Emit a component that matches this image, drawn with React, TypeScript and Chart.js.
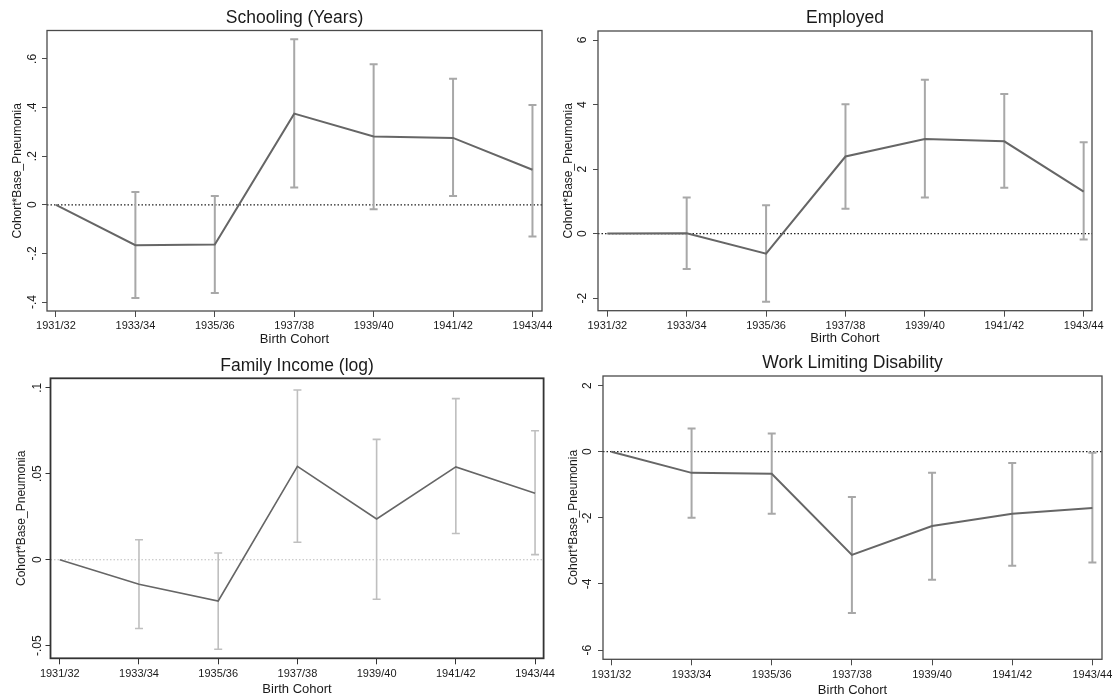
import React, { useEffect, useRef } from "react";
import { Chart, registerables } from "chart.js";

Chart.register(...registerables);

// ---------------- data ----------------
const cohorts = ["1931/32", "1933/34", "1935/36", "1937/38", "1939/40", "1941/42", "1943/44"];

const schoolingEst = [0, -0.166, -0.163, 0.375, 0.281, 0.275, 0.144];
const schoolingHi = [null, 0.053, 0.036, 0.681, 0.578, 0.518, 0.41];
const schoolingLo = [null, -0.384, -0.363, 0.071, -0.018, 0.036, -0.13];
const schoolingTicks = [-0.4, -0.2, 0, 0.2, 0.4, 0.6];
const schoolingTickLabels = ["-.4", "-.2", "0", ".2", ".4", ".6"];

const employedEst = [0, 0.01, -0.62, 2.39, 2.93, 2.86, 1.3];
const employedHi = [null, 1.12, 0.88, 4.01, 4.77, 4.33, 2.83];
const employedLo = [null, -1.1, -2.11, 0.77, 1.12, 1.42, -0.18];
const employedTicks = [-2, 0, 2, 4, 6];
const employedTickLabels = ["-2", "0", "2", "4", "6"];

const incomeEst = [0, -0.0143, -0.024, 0.0543, 0.0237, 0.054, 0.0387];
const incomeHi = [null, 0.0116, 0.0039, 0.0987, 0.07, 0.0937, 0.075];
const incomeLo = [null, -0.04, -0.052, 0.0102, -0.023, 0.0153, 0.003];
const incomeTicks = [-0.05, 0, 0.05, 0.1];
const incomeTickLabels = ["-.05", "0", ".05", ".1"];

const disabilityEst = [0, -0.64, -0.67, -3.12, -2.25, -1.88, -1.7];
const disabilityHi = [null, 0.7, 0.55, -1.37, -0.64, -0.34, -0.03];
const disabilityLo = [null, -2.0, -1.88, -4.88, -3.87, -3.45, -3.35];
const disabilityTicks = [-6, -4, -2, 0, 2];
const disabilityTickLabels = ["-6", "-4", "-2", "0", "2"];

const yTitle = "Cohort*Base_Pneumonia";
const xTitle = "Birth Cohort";

// ---------------- layout / style ----------------
const FONT = '"Liberation Sans", Arial, Helvetica, sans-serif';

type Layout = {
  box: { x: number; y: number; w: number; h: number };
  frame: { l: number; t: number; r: number; b: number };
  yTickX: number;
  yTitleX: number;
  titleY: number;
  xLabelDy: number;
  xTitleDy: number;
  xMin: number;
  xMax: number;
  yMin: number;
  yMax: number;
};

type Style = {
  zeroColor: string;
  lineWidth: number;
  errColor: string;
  errWidth: number;
  frameColor: string;
  frameWidth: number;
};

type PanelProps = {
  title: string;
  est: number[];
  hi: (number | null)[];
  lo: (number | null)[];
  ticks: number[];
  tickLabels: string[];
  layout: Layout;
  style: Style;
};

const Y_AXIS_W = 10;
const X_AXIS_H = 8;

function Panel({ title, est, hi, lo, ticks, tickLabels, layout, style }: PanelProps) {
  const ref = useRef<HTMLCanvasElement | null>(null);

  useEffect(() => {
    const canvas = ref.current;
    if (!canvas) return;
    const { box, frame } = layout;
    const ox = box.x;
    const oy = box.y;

    const overlay = {
      id: "stataOverlay",
      beforeDatasetsDraw(chart: any) {
        const ctx = chart.ctx;
        const xs = chart.scales.x;
        const ys = chart.scales.y;
        const ca = chart.chartArea;
        // zero reference line
        ctx.save();
        ctx.strokeStyle = style.zeroColor;
        ctx.lineWidth = 1.2;
        ctx.setLineDash([1.5, 2]);
        const zy = ys.getPixelForValue(0);
        ctx.beginPath();
        ctx.moveTo(ca.left, zy);
        ctx.lineTo(ca.right, zy);
        ctx.stroke();
        ctx.restore();
        // error bars
        ctx.save();
        ctx.strokeStyle = style.errColor;
        ctx.lineWidth = style.errWidth;
        const cap = 4;
        for (let i = 0; i < est.length; i++) {
          const h = hi[i];
          const l = lo[i];
          if (h == null || l == null) continue;
          const px = xs.getPixelForValue(i);
          const pyH = ys.getPixelForValue(h);
          const pyL = ys.getPixelForValue(l);
          ctx.beginPath();
          ctx.moveTo(px, pyL);
          ctx.lineTo(px, pyH);
          ctx.moveTo(px - cap, pyL);
          ctx.lineTo(px + cap, pyL);
          ctx.moveTo(px - cap, pyH);
          ctx.lineTo(px + cap, pyH);
          ctx.stroke();
        }
        ctx.restore();
      },
      afterDraw(chart: any) {
        const ctx = chart.ctx;
        const xs = chart.scales.x;
        const ys = chart.scales.y;
        const ca = chart.chartArea;
        ctx.save();
        // frame
        ctx.strokeStyle = style.frameColor;
        ctx.lineWidth = style.frameWidth;
        ctx.strokeRect(ca.left, ca.top, ca.right - ca.left, ca.bottom - ca.top);
        ctx.fillStyle = "#1a1a1a";
        // title
        ctx.font = `17.5px ${FONT}`;
        ctx.textAlign = "center";
        ctx.textBaseline = "middle";
        ctx.fillText(title, (ca.left + ca.right) / 2, layout.titleY - oy);
        // x tick labels
        ctx.font = `11px ${FONT}`;
        for (let i = 0; i < cohorts.length; i++) {
          ctx.fillText(cohorts[i], xs.getPixelForValue(i), ca.bottom + layout.xLabelDy);
        }
        // x title
        ctx.font = `13px ${FONT}`;
        ctx.fillText(xTitle, (ca.left + ca.right) / 2, ca.bottom + layout.xTitleDy);
        // y tick labels (rotated)
        ctx.font = `12px ${FONT}`;
        for (let i = 0; i < ticks.length; i++) {
          const py = ys.getPixelForValue(ticks[i]);
          ctx.save();
          ctx.translate(layout.yTickX - ox, py);
          ctx.rotate(-Math.PI / 2);
          ctx.fillText(tickLabels[i], 0, 0);
          ctx.restore();
        }
        // y title
        ctx.font = `12px ${FONT}`;
        ctx.save();
        ctx.translate(layout.yTitleX - ox, (ca.top + ca.bottom) / 2);
        ctx.rotate(-Math.PI / 2);
        ctx.fillText(yTitle, 0, 0);
        ctx.restore();
        ctx.restore();
      },
    };

    const padLeft = frame.l - box.x - Y_AXIS_W;
    const padTop = frame.t - box.y;
    const padRight = box.x + box.w - frame.r;
    const padBottom = box.y + box.h - frame.b - X_AXIS_H;

    const chart = new Chart(canvas, {
      type: "line",
      data: {
        datasets: [
          {
            data: est.map((v, i) => ({ x: i, y: v })),
            borderColor: "#666666",
            borderWidth: style.lineWidth,
            pointRadius: 0,
            tension: 0,
            fill: false,
          },
        ],
      },
      options: {
        responsive: false,
        animation: false,
        devicePixelRatio: 1,
        layout: { padding: { left: padLeft, top: padTop, right: padRight, bottom: padBottom } },
        plugins: { legend: { display: false }, tooltip: { enabled: false }, title: { display: false } },
        scales: {
          x: {
            type: "linear",
            min: layout.xMin,
            max: layout.xMax,
            ticks: { display: false },
            grid: { display: true, drawOnChartArea: false, drawTicks: true, tickLength: 6, color: style.frameColor, lineWidth: 1 },
            border: { display: false },
            afterBuildTicks: (s: any) => {
              s.ticks = cohorts.map((_, i) => ({ value: i }));
            },
            afterFit: (s: any) => {
              s.height = X_AXIS_H;
            },
          },
          y: {
            type: "linear",
            min: layout.yMin,
            max: layout.yMax,
            ticks: { display: false },
            grid: { display: true, drawOnChartArea: false, drawTicks: true, tickLength: 5, color: style.frameColor, lineWidth: 1 },
            border: { display: false },
            afterBuildTicks: (s: any) => {
              s.ticks = ticks.map((v) => ({ value: v }));
            },
            afterFit: (s: any) => {
              s.width = Y_AXIS_W;
            },
          },
        },
      },
      plugins: [overlay],
    } as any);

    return () => chart.destroy();
  }, []);

  const { box } = layout;
  return (
    <canvas
      ref={ref}
      width={box.w}
      height={box.h}
      style={{ position: "absolute", left: box.x, top: box.y, width: box.w, height: box.h }}
    />
  );
}

const baseStyle: Style = {
  zeroColor: "#222222",
  lineWidth: 2,
  errColor: "#a8a8a8",
  errWidth: 2,
  frameColor: "#4a4a4a",
  frameWidth: 1.3,
};

const incomeStyle: Style = {
  zeroColor: "#bdbdbd",
  lineWidth: 1.6,
  errColor: "#bfbfbf",
  errWidth: 1.6,
  frameColor: "#333333",
  frameWidth: 1.8,
};

const layout1: Layout = {
  box: { x: 0, y: 0, w: 557, h: 349 },
  frame: { l: 47, t: 30.5, r: 542, b: 311 },
  yTickX: 33,
  yTitleX: 18,
  titleY: 18,
  xLabelDy: 15,
  xTitleDy: 28,
  xMin: -0.113,
  xMax: 6.12,
  yMin: -0.437,
  yMax: 0.717,
};

const layout2: Layout = {
  box: { x: 557, y: 0, w: 557, h: 349 },
  frame: { l: 598, t: 31, r: 1092, b: 310.7 },
  yTickX: 583,
  yTitleX: 569,
  titleY: 18,
  xLabelDy: 15,
  xTitleDy: 28,
  xMin: -0.117,
  xMax: 6.105,
  yMin: -2.39,
  yMax: 6.28,
};

const layout3: Layout = {
  box: { x: 0, y: 349, w: 557, h: 349 },
  frame: { l: 50.5, t: 378.3, r: 543.6, b: 658.3 },
  yTickX: 37.7,
  yTitleX: 21.7,
  titleY: 366,
  xLabelDy: 16,
  xTitleDy: 31,
  xMin: -0.117,
  xMax: 6.108,
  yMin: -0.0573,
  yMax: 0.1055,
};

const layout4: Layout = {
  box: { x: 557, y: 349, w: 557, h: 349 },
  frame: { l: 603, t: 376, r: 1102, b: 659.3 },
  yTickX: 587.7,
  yTitleX: 573.3,
  titleY: 363,
  xLabelDy: 16,
  xTitleDy: 31,
  xMin: -0.105,
  xMax: 6.12,
  yMin: -6.28,
  yMax: 2.29,
};

export default function App() {
  return (
    <div style={{ position: "fixed", left: 0, top: 0, width: 1114, height: 698, background: "#ffffff", overflow: "hidden" }}>
      <Panel title="Schooling (Years)" est={schoolingEst} hi={schoolingHi} lo={schoolingLo} ticks={schoolingTicks} tickLabels={schoolingTickLabels} layout={layout1} style={baseStyle} />
      <Panel title="Employed" est={employedEst} hi={employedHi} lo={employedLo} ticks={employedTicks} tickLabels={employedTickLabels} layout={layout2} style={baseStyle} />
      <Panel title="Family Income (log)" est={incomeEst} hi={incomeHi} lo={incomeLo} ticks={incomeTicks} tickLabels={incomeTickLabels} layout={layout3} style={incomeStyle} />
      <Panel title="Work Limiting Disability" est={disabilityEst} hi={disabilityHi} lo={disabilityLo} ticks={disabilityTicks} tickLabels={disabilityTickLabels} layout={layout4} style={baseStyle} />
    </div>
  );
}
